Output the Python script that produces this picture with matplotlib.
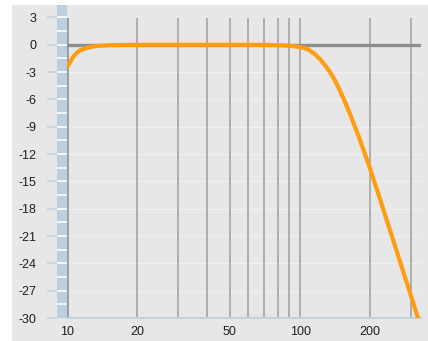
import matplotlib
matplotlib.use("Agg")
import matplotlib.pyplot as plt
from matplotlib.patches import Rectangle
import numpy as np

# Data (frequency in Hz, level in dB)
freq_hz = [10, 10.3, 10.64, 11.0, 11.37, 12.0, 12.55, 13.2, 13.9, 15.0, 16.5, 20,
           30, 50, 70, 80, 90, 100, 105, 110, 116, 122, 128, 134, 141, 148,
           156, 164, 172, 180, 190, 200, 218, 239, 260, 280, 300, 324]
level_db = [-2.5, -1.9, -1.3, -0.9, -0.6, -0.38, -0.25, -0.16, -0.1, -0.05, -0.02, 0,
            0, 0, 0, -0.04, -0.1, -0.25, -0.38, -0.62, -1.05, -1.6, -2.25, -2.95, -3.9, -5.0,
            -6.3, -7.65, -9.0, -10.35, -12.05, -13.7, -16.6, -19.8, -22.7, -25.3, -27.7, -30.4]

xtick_vals = [10, 20, 50, 100, 200]
xtick_labels = ["10", "20", "50", "100", "200"]
xgrid_vals = [20, 30, 40, 50, 60, 70, 80, 90, 100, 200, 300]
ytick_vals = list(range(-30, 4, 3))

W, H = 428, 341
fig = plt.figure(figsize=(W / 100, H / 100), dpi=100)
fig.patch.set_facecolor("white")

# grey panel
fig.patches.append(Rectangle((12 / W, 0), 1 - 12 / W, (H - 5) / H,
                             transform=fig.transFigure, facecolor="#e7e7e7",
                             edgecolor="none", zorder=-10))

font = dict(family=["Liberation Sans", "DejaVu Sans"], size=9, color="#1e1e1e")

# main plot axes
x0, x1 = 67, 421
y_top, y_bot = 17.5, 318
ax = fig.add_axes([x0 / W, (H - y_bot) / H, (x1 - x0) / W, (y_bot - y_top) / H])
ax.set_facecolor("#e7e7e7")
ax.set_xscale("log")
ax.set_xlim(10, 330)
ax.set_ylim(-30, 3)

for y in ytick_vals:
    ax.axhline(y, color="#f0f0f0", lw=0.8, zorder=1)
for x in xgrid_vals:
    ax.axvline(x, color="#a9a9a9", lw=1.3, zorder=2)
ax.axvline(10, color="#9a9a9a", lw=2.0, zorder=2)
ax.axhline(0, color="#8e8e8e", lw=2.4, zorder=3)

ax.plot(freq_hz, level_db, color="#ff9c12", lw=3.0, solid_joinstyle="round",
        solid_capstyle="butt", zorder=4)

for s in ["top", "right", "left"]:
    ax.spines[s].set_visible(False)
ax.spines["bottom"].set_color("#c4d2df")
ax.spines["bottom"].set_linewidth(1.5)
ax.set_yticks([])
ax.set_xticks(xtick_vals)
ax.set_xticklabels(xtick_labels, fontdict=font)
ax.xaxis.set_minor_locator(matplotlib.ticker.NullLocator())
ax.tick_params(axis="x", length=0, pad=6)

# left scale strip
sy_top = 5
strip = fig.add_axes([57 / W, (H - y_bot) / H, 10 / W, (y_bot - sy_top) / H])
strip.set_facecolor("#bccfe1")
top_val = 3 + (y_top - sy_top) / ((y_bot - y_top) / 33.0)
strip.set_ylim(-30, top_val)
strip.set_xlim(0, 1)
for v in np.arange(-28.5, 3.1, 1.5):
    strip.axhline(v, color="white", lw=1.2)
for s in strip.spines.values():
    s.set_visible(False)
strip.set_xticks([])
strip.set_yticks(ytick_vals)
strip.set_yticklabels([str(v) for v in ytick_vals], fontdict=font)
strip.tick_params(axis="y", length=7.5, width=1.2, color="#c4d2df", pad=7)

fig.savefig("out.png", dpi=100)
